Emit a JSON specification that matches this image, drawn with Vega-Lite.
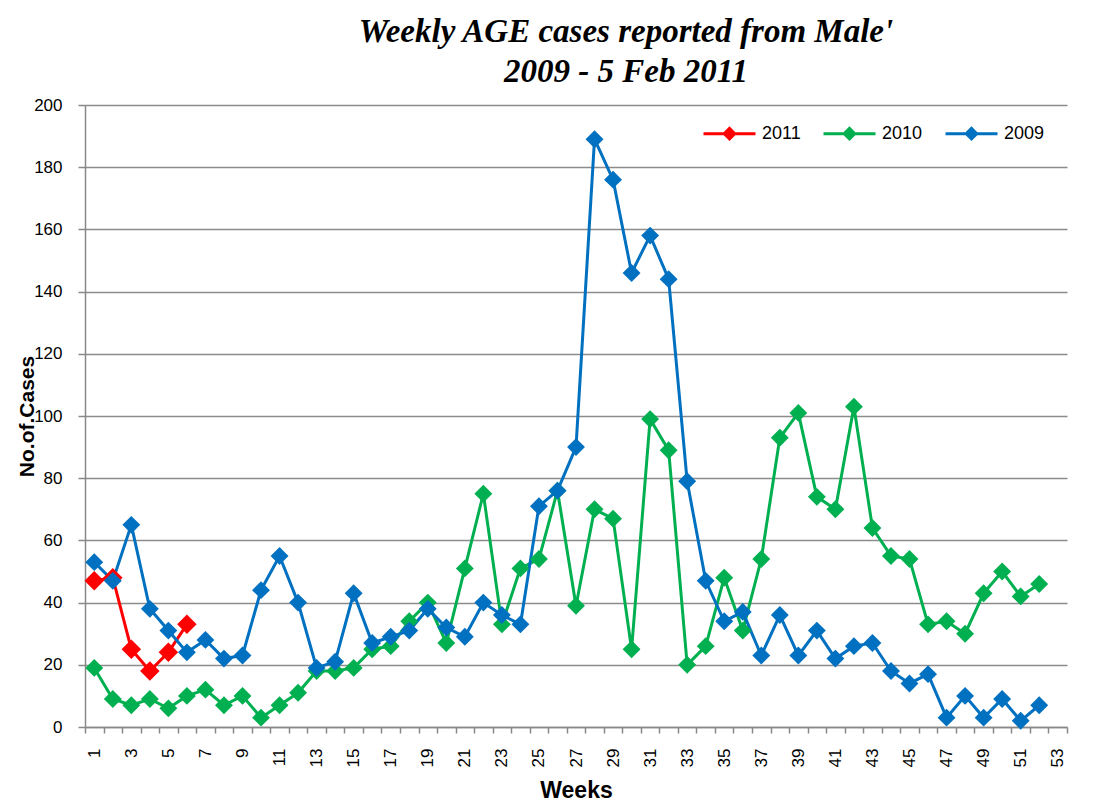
{
  "$schema": "https://vega.github.io/schema/vega-lite/v6.json",
  "autosize": "none",
  "width": 982,
  "height": 622,
  "padding": {"left": 85, "top": 105, "right": 36, "bottom": 78},
  "background": "white",
  "title": {
    "text": ["Weekly AGE cases reported from Male'", " 2009 -  5 Feb 2011"],
    "font": "Liberation Serif",
    "fontSize": 33,
    "fontWeight": "bold",
    "fontStyle": "italic",
    "color": "#000000",
    "anchor": "middle",
    "dx": 50,
    "lineHeight": 40,
    "baseline": "alphabetic",
    "offset": -19
  },
  "datasets": {
    "cases": [
      {"week": 1, "year": "2011", "cases": 47}, {"week": 2, "year": "2011", "cases": 48}, {"week": 3, "year": "2011", "cases": 25},
      {"week": 4, "year": "2011", "cases": 18}, {"week": 5, "year": "2011", "cases": 24}, {"week": 6, "year": "2011", "cases": 33},
      {"week": 1, "year": "2010", "cases": 19}, {"week": 2, "year": "2010", "cases": 9}, {"week": 3, "year": "2010", "cases": 7},
      {"week": 4, "year": "2010", "cases": 9}, {"week": 5, "year": "2010", "cases": 6}, {"week": 6, "year": "2010", "cases": 10},
      {"week": 7, "year": "2010", "cases": 12}, {"week": 8, "year": "2010", "cases": 7}, {"week": 9, "year": "2010", "cases": 10},
      {"week": 10, "year": "2010", "cases": 3}, {"week": 11, "year": "2010", "cases": 7}, {"week": 12, "year": "2010", "cases": 11},
      {"week": 13, "year": "2010", "cases": 18}, {"week": 14, "year": "2010", "cases": 18}, {"week": 15, "year": "2010", "cases": 19},
      {"week": 16, "year": "2010", "cases": 25}, {"week": 17, "year": "2010", "cases": 26}, {"week": 18, "year": "2010", "cases": 34},
      {"week": 19, "year": "2010", "cases": 40}, {"week": 20, "year": "2010", "cases": 27}, {"week": 21, "year": "2010", "cases": 51},
      {"week": 22, "year": "2010", "cases": 75}, {"week": 23, "year": "2010", "cases": 33}, {"week": 24, "year": "2010", "cases": 51},
      {"week": 25, "year": "2010", "cases": 54}, {"week": 26, "year": "2010", "cases": 76}, {"week": 27, "year": "2010", "cases": 39},
      {"week": 28, "year": "2010", "cases": 70}, {"week": 29, "year": "2010", "cases": 67}, {"week": 30, "year": "2010", "cases": 25},
      {"week": 31, "year": "2010", "cases": 99}, {"week": 32, "year": "2010", "cases": 89}, {"week": 33, "year": "2010", "cases": 20},
      {"week": 34, "year": "2010", "cases": 26}, {"week": 35, "year": "2010", "cases": 48}, {"week": 36, "year": "2010", "cases": 31},
      {"week": 37, "year": "2010", "cases": 54}, {"week": 38, "year": "2010", "cases": 93}, {"week": 39, "year": "2010", "cases": 101},
      {"week": 40, "year": "2010", "cases": 74}, {"week": 41, "year": "2010", "cases": 70}, {"week": 42, "year": "2010", "cases": 103},
      {"week": 43, "year": "2010", "cases": 64}, {"week": 44, "year": "2010", "cases": 55}, {"week": 45, "year": "2010", "cases": 54},
      {"week": 46, "year": "2010", "cases": 33}, {"week": 47, "year": "2010", "cases": 34}, {"week": 48, "year": "2010", "cases": 30},
      {"week": 49, "year": "2010", "cases": 43}, {"week": 50, "year": "2010", "cases": 50}, {"week": 51, "year": "2010", "cases": 42},
      {"week": 52, "year": "2010", "cases": 46},
      {"week": 1, "year": "2009", "cases": 53}, {"week": 2, "year": "2009", "cases": 47}, {"week": 3, "year": "2009", "cases": 65},
      {"week": 4, "year": "2009", "cases": 38}, {"week": 5, "year": "2009", "cases": 31}, {"week": 6, "year": "2009", "cases": 24},
      {"week": 7, "year": "2009", "cases": 28}, {"week": 8, "year": "2009", "cases": 22}, {"week": 9, "year": "2009", "cases": 23},
      {"week": 10, "year": "2009", "cases": 44}, {"week": 11, "year": "2009", "cases": 55}, {"week": 12, "year": "2009", "cases": 40},
      {"week": 13, "year": "2009", "cases": 19}, {"week": 14, "year": "2009", "cases": 21}, {"week": 15, "year": "2009", "cases": 43},
      {"week": 16, "year": "2009", "cases": 27}, {"week": 17, "year": "2009", "cases": 29}, {"week": 18, "year": "2009", "cases": 31},
      {"week": 19, "year": "2009", "cases": 38}, {"week": 20, "year": "2009", "cases": 32}, {"week": 21, "year": "2009", "cases": 29},
      {"week": 22, "year": "2009", "cases": 40}, {"week": 23, "year": "2009", "cases": 36}, {"week": 24, "year": "2009", "cases": 33},
      {"week": 25, "year": "2009", "cases": 71}, {"week": 26, "year": "2009", "cases": 76}, {"week": 27, "year": "2009", "cases": 90},
      {"week": 28, "year": "2009", "cases": 189}, {"week": 29, "year": "2009", "cases": 176}, {"week": 30, "year": "2009", "cases": 146},
      {"week": 31, "year": "2009", "cases": 158}, {"week": 32, "year": "2009", "cases": 144}, {"week": 33, "year": "2009", "cases": 79},
      {"week": 34, "year": "2009", "cases": 47}, {"week": 35, "year": "2009", "cases": 34}, {"week": 36, "year": "2009", "cases": 37},
      {"week": 37, "year": "2009", "cases": 23}, {"week": 38, "year": "2009", "cases": 36}, {"week": 39, "year": "2009", "cases": 23},
      {"week": 40, "year": "2009", "cases": 31}, {"week": 41, "year": "2009", "cases": 22}, {"week": 42, "year": "2009", "cases": 26},
      {"week": 43, "year": "2009", "cases": 27}, {"week": 44, "year": "2009", "cases": 18}, {"week": 45, "year": "2009", "cases": 14},
      {"week": 46, "year": "2009", "cases": 17}, {"week": 47, "year": "2009", "cases": 3}, {"week": 48, "year": "2009", "cases": 10},
      {"week": 49, "year": "2009", "cases": 3}, {"week": 50, "year": "2009", "cases": 9}, {"week": 51, "year": "2009", "cases": 2},
      {"week": 52, "year": "2009", "cases": 7}
    ]
  },
  "data": {"name": "cases"},
  "encoding": {
    "x": {
      "field": "week",
      "type": "ordinal",
      "sort": null,
      "scale": {
        "type": "band",
        "paddingInner": 0,
        "paddingOuter": 0,
        "domain": [1,2,3,4,5,6,7,8,9,10,11,12,13,14,15,16,17,18,19,20,21,22,23,24,25,26,27,28,29,30,31,32,33,34,35,36,37,38,39,40,41,42,43,44,45,46,47,48,49,50,51,52,53]
      },
      "axis": {
        "title": "Weeks",
        "titleFont": "Liberation Sans",
        "titleFontSize": 23,
        "titleFontWeight": "bold",
        "titleColor": "#000000",
        "titleBaseline": "middle",
        "titleY": 63,
        "labelAngle": -90,
        "labelAlign": "right",
        "labelBaseline": "middle",
        "labelFont": "Liberation Sans",
        "labelFontSize": 17,
        "labelColor": "#000000",
        "labelPadding": 15,
        "labelExpr": "datum.value % 2 == 1 ? datum.label : ''",
        "labelOverlap": false,
        "tickBand": "extent",
        "tickSize": 6,
        "tickColor": "#888888",
        "tickWidth": 1.5,
        "domainColor": "#888888",
        "domainWidth": 1.5,
        "grid": false
      }
    },
    "y": {
      "field": "cases",
      "type": "quantitative",
      "scale": {"domain": [0, 200], "nice": false},
      "axis": {
        "title": "No.of.Cases",
        "titleFont": "Liberation Sans",
        "titleFontSize": 21,
        "titleFontWeight": "bold",
        "titleColor": "#000000",
        "titleAngle": 270,
        "titleAlign": "center",
        "titleBaseline": "middle",
        "titleX": -58,
        "titleY": 311,
        "values": [0,20,40,60,80,100,120,140,160,180,200],
        "labelFont": "Liberation Sans",
        "labelFontSize": 17,
        "labelColor": "#000000",
        "labelPadding": 16,
        "tickSize": 7,
        "tickColor": "#888888",
        "tickWidth": 1.5,
        "domainColor": "#888888",
        "domainWidth": 1.5,
        "grid": true,
        "gridColor": "#8c8c8c",
        "gridWidth": 1.5
      }
    },
    "color": {
      "field": "year",
      "type": "nominal",
      "scale": {"domain": ["2011", "2010", "2009"], "range": ["#ff0000", "#00b050", "#0070c0"]},
      "legend": {
        "title": null,
        "orient": "none",
        "legendX": 617,
        "legendY": 1,
        "direction": "horizontal",
        "symbolType": "M-1,0H1M-0.2,0L0,-0.2L0.2,0L0,0.2Z",
        "symbolSize": 2704,
        "symbolStrokeWidth": 3,
        "labelFont": "Liberation Sans",
        "labelFontSize": 18,
        "labelColor": "#000000",
        "labelOffset": 5,
        "columnPadding": 16,
        "encode": {
          "symbols": {
            "update": {
              "fill": {"scale": "color", "field": "value"},
              "stroke": {"scale": "color", "field": "value"},
              "opacity": {"value": 1}
            }
          }
        }
      }
    }
  },
  "layer": [
    {"mark": {"type": "line", "strokeWidth": 3}},
    {"mark": {"type": "point", "shape": "diamond", "filled": true, "opacity": 1},
     "encoding": {"size": {"condition": {"test": "datum.year == '2011'", "value": 380}, "value": 320}}}
  ],
  "config": {
    "view": {"stroke": null}
  }
}
